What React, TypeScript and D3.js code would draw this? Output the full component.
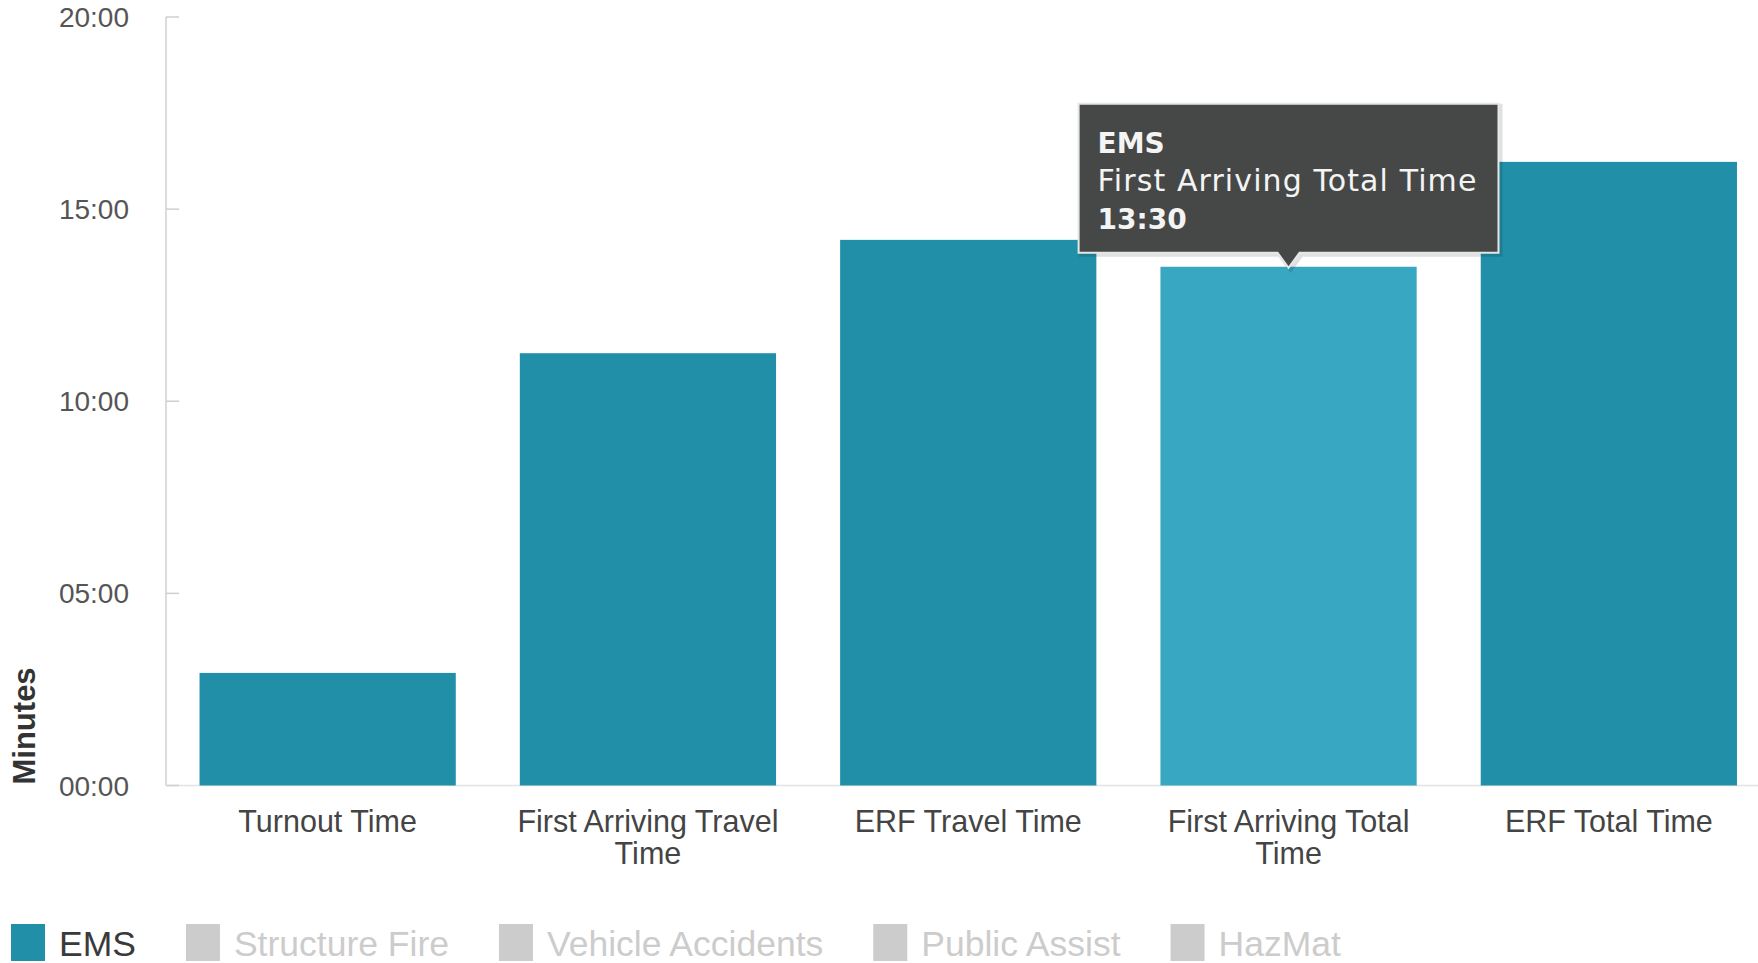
import React, { useEffect, useRef } from 'react';
import * as d3 from 'd3';

// chart data
const categories = [
  'Turnout Time',
  'First Arriving Travel Time',
  'ERF Travel Time',
  'First Arriving Total Time',
  'ERF Total Time',
];
const emsMinutes = [2.93, 11.25, 14.2, 13.5, 16.23];
const yTicks = [0, 5, 10, 15, 20];
const legendSeries = ['EMS', 'Structure Fire', 'Vehicle Accidents', 'Public Assist', 'HazMat'];
const activeSeries = ['EMS'];
const hoveredIndex = 3;

const W = 1758;
const H = 963;

const pad2 = (n: number) => (n < 10 ? '0' + n : '' + n);
const fmtMinutes = (m: number) => {
  const total = Math.round(m * 60);
  return pad2(Math.floor(total / 60)) + ':' + pad2(total % 60);
};

const App: React.FC = () => {
  const svgRef = useRef<SVGSVGElement>(null);

  useEffect(() => {
    document.body.style.margin = '0';
    if (!svgRef.current) return;
    const svg = d3.select(svgRef.current);
    svg.selectAll('*').remove();

    const axisFont = "'Liberation Sans', Arial, sans-serif";
    const tipFont = "'DejaVu Sans', Verdana, sans-serif";

    // scales
    const x = d3.scaleBand<string>()
      .domain(categories)
      .range([167.5, 1769])
      .paddingInner(0.2)
      .paddingOuter(0.1);
    const y = d3.scaleLinear().domain([0, 20]).range([785.5, 17]);
    const axisX = 166;

    // axis lines
    svg.append('line')
      .attr('x1', axisX).attr('x2', W)
      .attr('y1', y(0)).attr('y2', y(0))
      .attr('stroke', '#e3e3e3').attr('stroke-width', 1.5);
    svg.append('line')
      .attr('x1', axisX).attr('x2', axisX)
      .attr('y1', y(20)).attr('y2', y(0))
      .attr('stroke', '#d0d0d0').attr('stroke-width', 1.5);

    // y ticks + labels
    const yt = svg.append('g');
    yt.selectAll('line')
      .data(yTicks)
      .enter()
      .append('line')
      .attr('x1', axisX).attr('x2', axisX + 13)
      .attr('y1', d => y(d)).attr('y2', d => y(d))
      .attr('stroke', '#cfcfcf').attr('stroke-width', 1.5);
    yt.selectAll('text')
      .data(yTicks)
      .enter()
      .append('text')
      .attr('x', 129)
      .attr('y', d => y(d) + 10)
      .attr('text-anchor', 'end')
      .attr('fill', '#555')
      .style('font-family', axisFont)
      .style('font-size', '28px')
      .text(d => fmtMinutes(d));

    // y title
    svg.append('text')
      .attr('transform', `translate(35, ${y(0) - 1}) rotate(-90)`)
      .attr('text-anchor', 'start')
      .attr('fill', '#333')
      .style('font-family', axisFont)
      .style('font-weight', 'bold')
      .style('font-size', '31px')
      .text('Minutes');

    // bars
    svg.append('g')
      .selectAll('rect')
      .data(emsMinutes)
      .enter()
      .append('rect')
      .attr('x', (_d, i) => x(categories[i]) as number)
      .attr('width', x.bandwidth())
      .attr('y', d => y(d))
      .attr('height', d => y(0) - y(d))
      .attr('fill', (_d, i) => (i === hoveredIndex ? '#38a8c2' : '#218fa8'));

    // x labels, wrapped
    const wrapWidth = x.step() * 0.9;
    categories.forEach(cat => {
      const cx = (x(cat) as number) + x.bandwidth() / 2;
      const t = svg.append('text')
        .attr('text-anchor', 'middle')
        .attr('fill', '#444')
        .style('font-family', axisFont)
        .style('font-size', '30.5px');
      const words = cat.split(' ');
      let line: string[] = [];
      let lineNo = 0;
      let tspan = t.append('tspan').attr('x', cx).attr('y', 832);
      words.forEach(w => {
        line.push(w);
        tspan.text(line.join(' '));
        if ((tspan.node() as SVGTSpanElement).getComputedTextLength() > wrapWidth && line.length > 1) {
          line.pop();
          tspan.text(line.join(' '));
          line = [w];
          lineNo += 1;
          tspan = t.append('tspan').attr('x', cx).attr('y', 832 + lineNo * 32).text(w);
        }
      });
    });

    // legend
    const lg = svg.append('g');
    let lx = 11;
    legendSeries.forEach(name => {
      const on = activeSeries.includes(name);
      lg.append('rect')
        .attr('x', lx).attr('y', 924)
        .attr('width', 34).attr('height', 37)
        .attr('fill', on ? '#218fa8' : '#cccccc');
      const txt = lg.append('text')
        .attr('x', lx + 48).attr('y', 956)
        .attr('fill', on ? '#3a3a3a' : '#cccccc')
        .style('font-family', axisFont)
        .style('font-size', '35.5px')
        .text(name);
      const w = (txt.node() as SVGTextElement).getComputedTextLength();
      lx = lx + 48 + w + 50;
    });

    // tooltip on hovered bar
    const hv = emsMinutes[hoveredIndex];
    const hcx = (x(categories[hoveredIndex]) as number) + x.bandwidth() / 2;
    const tip = svg.append('g');
    const lines = [
      { t: 'EMS', bold: true },
      { t: categories[hoveredIndex], bold: false },
      { t: fmtMinutes(hv), bold: true },
    ];
    const boxBottom = y(hv) - 14;
    const boxH = 149;
    const boxTop = boxBottom - boxH;
    const texts = tip.append('g');
    lines.forEach((l, i) => {
      texts.append('text')
        .attr('y', boxTop + 49 + i * 38)
        .attr('fill', '#f4f4f4')
        .style('font-family', tipFont)
        .style('font-size', l.bold ? '28px' : '30px')
        .style('letter-spacing', l.bold ? '0px' : '1.1px')
        .style('font-weight', l.bold ? 'bold' : 'normal')
        .text(l.t);
    });
    let tw = 0;
    texts.selectAll<SVGTextElement, unknown>('text').each(function () {
      tw = Math.max(tw, this.getBBox().width);
    });
    const boxW = tw + 40;
    const boxL = hcx - boxW / 2;
    texts.selectAll('text').attr('x', boxL + 19);

    const shape = `M${boxL},${boxTop} H${boxL + boxW} V${boxBottom} H${hcx + 11} L${hcx},${boxBottom + 15} L${hcx - 11},${boxBottom} H${boxL} Z`;
    tip.insert('path', ':first-child')
      .attr('d', shape)
      .attr('fill', '#464847')
      .attr('stroke', '#e6e6e6')
      .attr('stroke-width', 2);
    tip.insert('path', ':first-child')
      .attr('d', shape)
      .attr('transform', 'translate(2,2)')
      .attr('fill', 'none')
      .attr('stroke', '#000')
      .attr('stroke-opacity', 0.12)
      .attr('stroke-width', 4);
  }, []);

  return <svg ref={svgRef} width={W} height={H} style={{ display: 'block', background: '#fff' }} />;
};

export default App;
